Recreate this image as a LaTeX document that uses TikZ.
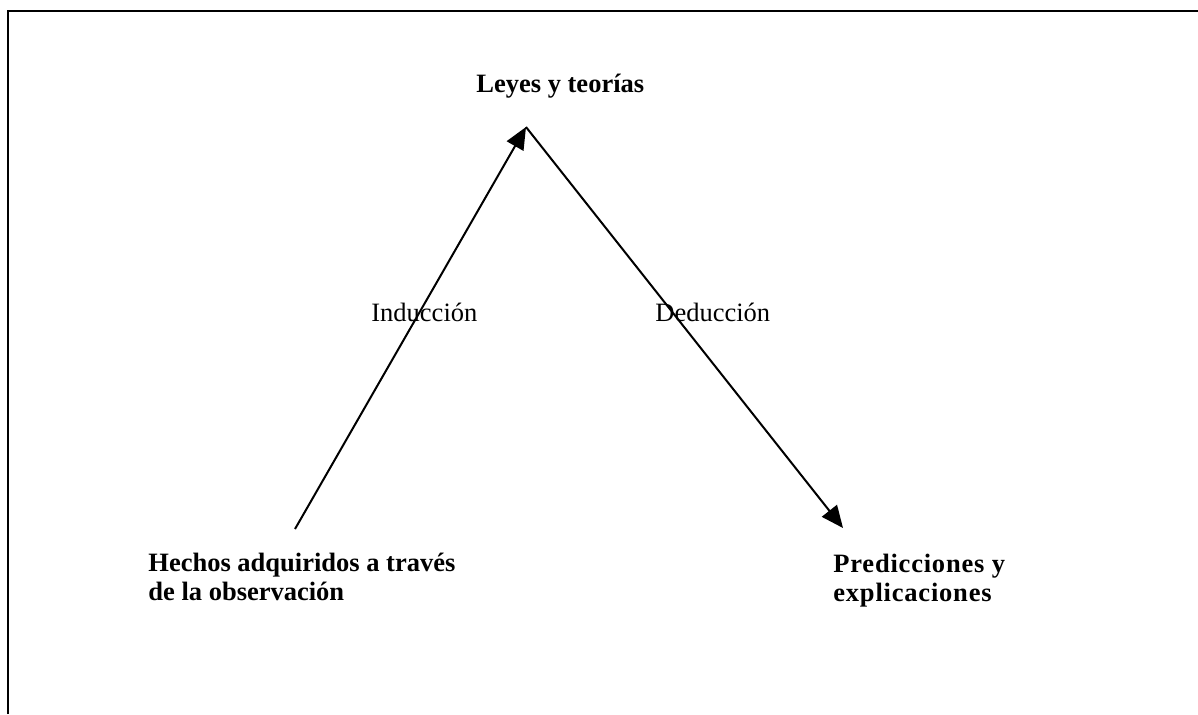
\documentclass[tikz,border=0pt]{standalone}
\usepackage{fontspec}
\setmainfont{Liberation Serif}
\newfontfamily\spacedserif[LetterSpace=3]{Liberation Serif}
\usetikzlibrary{arrows.meta}
\begin{document}
\begin{tikzpicture}[x=0.5pt,y=-0.5pt,
  frameline/.style={line width=1.2pt},
  arrowline/.style={line width=1pt,-{Triangle[length=11pt,width=9.5pt]}},
  heading/.style={inner sep=0pt,anchor=base west,align=left,
    font=\fontsize{13.25}{14.5}\selectfont\bfseries},
  edgelabel/.style={inner sep=0pt,anchor=base west,
    font=\fontsize{13.25}{14.5}\selectfont}]
  % page extent and the open frame (top and left sides only)
  \useasboundingbox (0,0) rectangle (1198,714);
  \draw[frameline] (8,714) -- (8,11) -- (1198,11);

  % texts (two-line nodes are placed by the baseline of their last line)
  \node[heading] (leyes) at (476,92) {Leyes y teorías};
  \node[heading] (hechos) at (148,600) {Hechos adquiridos a través\\de la observación};
  \node[heading,font=\fontsize{13.25}{14.5}\selectfont\spacedserif\bfseries] (pred) at (833,601) {Predicciones y\\explicaciones};
  \node[edgelabel] (ind) at (371,321) {Inducción};
  \node[edgelabel] (ded) at (655,321) {Deducción};

  % induction and deduction arrows meeting at the apex
  \coordinate (apex) at (526,127);
  \coordinate (base) at (295,529);
  \coordinate (tip) at (843,528);
  \draw[arrowline] (base) -- (apex);
  \draw[arrowline] (apex) -- (tip);
\end{tikzpicture}
\end{document}
